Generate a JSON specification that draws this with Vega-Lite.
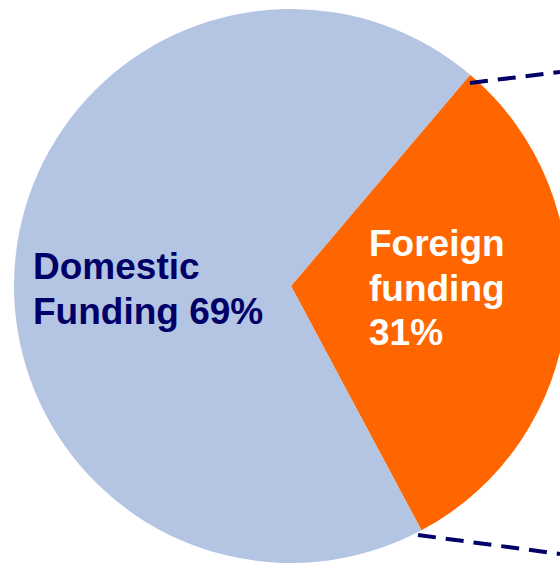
{
  "$schema": "https://vega.github.io/schema/vega-lite/v6.json",
  "width": 560,
  "height": 563,
  "autosize": {"type": "none"},
  "padding": 0,
  "background": "white",
  "config": {"view": {"stroke": null}},
  "layer": [
    {
      "data": {"values": [
        {"category": "Foreign funding", "value": 31, "idx": 1, "cx": 291, "cy": 286},
        {"category": "Domestic Funding", "value": 69, "idx": 2, "cx": 291, "cy": 286}
      ]},
      "mark": {"type": "arc", "radius": 277},
      "encoding": {
        "x": {"field": "cx", "type": "quantitative", "scale": {"domain": [0, 560], "nice": false, "zero": false}, "axis": null},
        "y": {"field": "cy", "type": "quantitative", "scale": {"domain": [0, 563], "nice": false, "zero": false, "reverse": true}, "axis": null},
        "theta": {"field": "value", "type": "quantitative", "stack": true, "scale": {"range": [0.7034, 6.9866]}},
        "order": {"field": "idx", "type": "quantitative"},
        "color": {"field": "category", "type": "nominal", "scale": {"domain": ["Foreign funding", "Domestic Funding"], "range": ["#ff6600", "#b4c4e3"]}, "legend": null}
      }
    },
    {
      "data": {"values": [
        {"x": 470, "y": 83, "x2": 560, "y2": 72},
        {"x": 418, "y": 535, "x2": 560, "y2": 554}
      ]},
      "mark": {"type": "rule", "color": "#000066", "strokeWidth": 4, "strokeDash": [18, 10]},
      "encoding": {
        "x": {"field": "x", "type": "quantitative"},
        "y": {"field": "y", "type": "quantitative"},
        "x2": {"field": "x2"},
        "y2": {"field": "y2"}
      }
    },
    {
      "data": {"values": [
        {"x": 33, "y": 279, "text": "Domestic", "group": "d"},
        {"x": 33, "y": 324, "text": "Funding 69%", "group": "d"},
        {"x": 369, "y": 256, "text": "Foreign", "group": "f"},
        {"x": 369, "y": 301, "text": "funding", "group": "f"},
        {"x": 369, "y": 345, "text": "31%", "group": "f"}
      ]},
      "mark": {"type": "text", "align": "left", "baseline": "alphabetic", "font": "Liberation Sans", "fontWeight": "bold", "fontSize": 37},
      "encoding": {
        "x": {"field": "x", "type": "quantitative"},
        "y": {"field": "y", "type": "quantitative"},
        "text": {"field": "text"},
        "color": {"field": "group", "type": "nominal", "scale": {"domain": ["d", "f"], "range": ["#000066", "#ffffff"]}, "legend": null}
      }
    }
  ],
  "resolve": {"scale": {"color": "independent"}}
}
